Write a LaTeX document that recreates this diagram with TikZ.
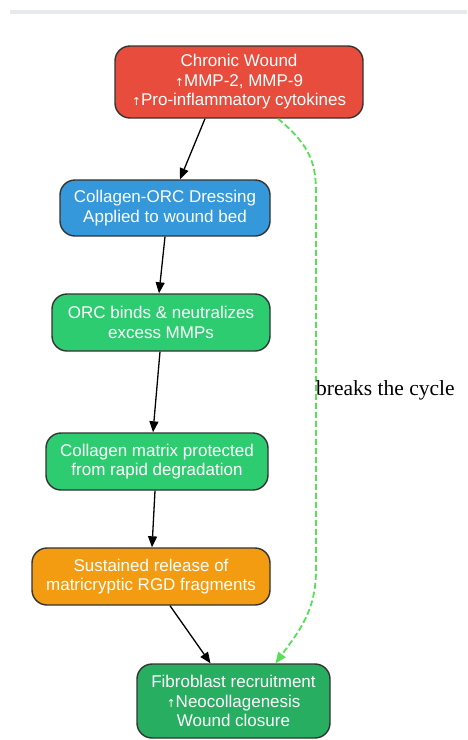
\documentclass[tikz,border=0pt]{standalone}
\usepackage{fontspec}
\setmainfont{Liberation Serif}
\setsansfont{Liberation Sans}
\usetikzlibrary{arrows.meta}
\usetikzlibrary{positioning}

\definecolor{woundred}{HTML}{E74C3C}
\definecolor{dressblue}{HTML}{3498DB}
\definecolor{stepgreen}{HTML}{2ECC71}
\definecolor{releaseorange}{HTML}{F39C12}
\definecolor{healgreen}{HTML}{27AE60}
\definecolor{cyclegreen}{HTML}{55E055}
\definecolor{bargrey}{HTML}{E6E9ED}

\begin{document}
\begin{tikzpicture}[x=1pt,y=-1pt,
            -{Triangle[length=11pt,width=9pt]},
            box/.style = {draw=black!80,line width=1.4pt,rounded corners=15pt,
                text=white,align=center,inner sep=0pt,
                font=\sffamily\fontsize{17}{19.5}\selectfont},
            flow/.style = {black,line width=1.3pt},
            cycle/.style = {cyclegreen,dash pattern=on 6pt off 3pt,line width=1.8pt}]
            \useasboundingbox (0,0) rectangle (467,740);
            \fill[bargrey] (10,10) rectangle (467,14);
            \node[box,fill=woundred,minimum width=248pt,minimum height=72pt]
                (b1) at (239,82) {
                Chronic Wound\\
                {\fontspec{DejaVu Sans}\fontsize{11}{11}\selectfont↑}MMP-2, MMP-9\\
                {\fontspec{DejaVu Sans}\fontsize{11}{11}\selectfont↑}Pro-inflammatory cytokines
            };
            \node[box,fill=dressblue,minimum width=210pt,minimum height=56pt]
                (b2) at (165,208) {
                Collagen-ORC Dressing\\
                Applied to wound bed
            };
            \node[box,fill=stepgreen,minimum width=218pt,minimum height=57pt]
                (b3) at (161,322.5) {
                ORC binds \& neutralizes\\
                excess MMPs
            };
            \node[box,fill=stepgreen,minimum width=222pt,minimum height=57pt]
                (b4) at (157,461.5) {
                Collagen matrix protected\\
                from rapid degradation
            };
            \node[box,fill=releaseorange,minimum width=238pt,minimum height=57pt]
                (b5) at (151,576.5) {
                Sustained release of\\
                matricryptic RGD fragments
            };
            \node[box,fill=healgreen,minimum width=193pt,minimum height=74pt]
                (b6) at (233.5,701) {
                Fibroblast recruitment\\
                {\fontspec{DejaVu Sans}\fontsize{11}{11}\selectfont↑}Neocollagenesis\\
                Wound closure
            };
            \path[flow]
                ([xshift=-34pt]b1.south) edge ([xshift=15pt]b2.north)
                ([xshift=0pt]b2.south) edge ([xshift=-2pt]b3.north)
                ([xshift=-1pt]b3.south) edge ([xshift=-4pt]b4.north)
                ([xshift=-2pt]b4.south) edge ([xshift=1pt]b5.north)
                ([xshift=19pt]b5.south) edge ([xshift=-23pt]b6.north);
            \draw[cycle] ([xshift=39pt]b1.south) .. controls (316,150) and (316,170) ..
                (316,200) -- (316,570) .. controls (316,610) and (300,630) ..
                ([xshift=42pt]b6.north);
            \node[anchor=west,inner sep=0pt,font=\fontsize{21.5}{24}\selectfont]
                (lbl) at (316,390) {breaks the cycle};
\end{tikzpicture}
\end{document}
